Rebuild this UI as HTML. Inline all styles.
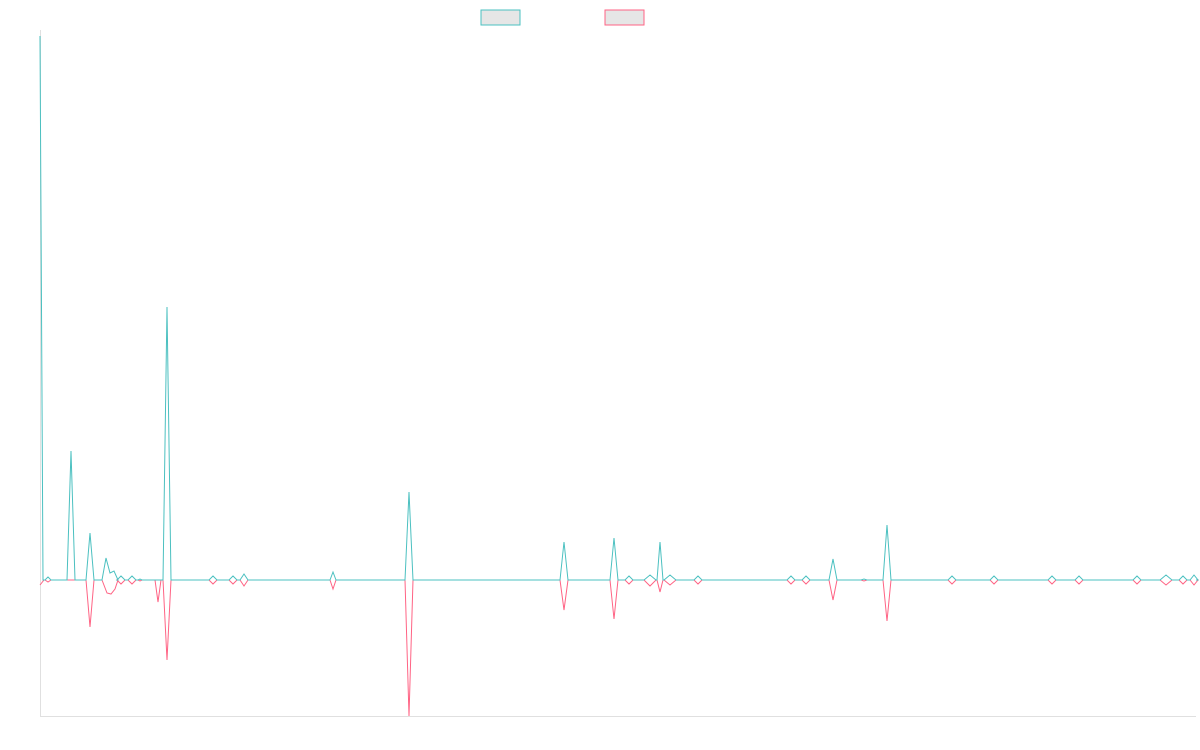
<!DOCTYPE html>
<html><head><meta charset="utf-8"><style>
html,body{margin:0;padding:0;background:#fff;width:1200px;height:750px;overflow:hidden}
</style></head><body>
<svg id="s" width="1200" height="750" xmlns="http://www.w3.org/2000/svg">
<line x1="40.5" y1="30" x2="40.5" y2="716" stroke="#e0e0e0" stroke-width="1"/>
<line x1="40" y1="716.5" x2="1196" y2="716.5" stroke="#e0e0e0" stroke-width="1"/>
<rect x="481" y="10" width="39" height="15" fill="#e6e6e6" stroke="#4bc0c0" stroke-width="1"/>
<rect x="605" y="10" width="39" height="15" fill="#e6e6e6" stroke="#ff6384" stroke-width="1"/>
<path id="pink" fill="none" stroke="#ff6384" stroke-width="1"/>
<path id="teal" fill="none" stroke="#4bc0c0" stroke-width="1"/>
</svg>
<script>
var B=580;
// x, tealTop, pinkBottom, halfwidth
var sp=[[48,577,582,3],[71,451,580,4],[90,533,627,4],[121,576,584,4],[132,576,584,4],[140,579,581,2],
[158,580,602,3],[167,307,660,4],[213,576,584,4],[233,576,584,4],[244,574,586,4],[333,572,589,3],[409,492,716,4],
[564,542,610,4],[614,538,619,4],[629,576,584,4],[650,575,586,6],[660,542,592,3],[670,575,585,6],[698,576,584,4],
[791,576,584,4],[806,576,584,4],[833,559,600,4],[864,579,581,3],[887,525,621,4],[952,576,584,4],[994,576,584,4],
[1052,576,584,4],[1079,576,584,4],[1137,576,584,4],[1166,575,585,6],[1183,576,584,4],[1194,575,585,4]];
var t="M40,36 L43,580 ",p="M40,585 L44,580 ";
for(var i=0;i<sp.length;i++){var s=sp[i];
 if(s[0]==106) continue;
 t+="L"+(s[0]-s[3])+","+B+" L"+s[0]+","+s[1]+" L"+(s[0]+s[3])+","+B+" ";
 p+="L"+(s[0]-s[3])+","+B+" L"+s[0]+","+s[2]+" L"+(s[0]+s[3])+","+B+" ";
 if(s[0]==90){t+="L102,580 L106,558 L110,573 L114,571 L118,580 ";p+="L102,580 L107,593 L111,594 L115,589 L118,580 ";}
}
t+="L1196,580";p+="L1196,580";
document.getElementById('teal').setAttribute('d',t);
document.getElementById('pink').setAttribute('d',p);
</script>
</body></html>
